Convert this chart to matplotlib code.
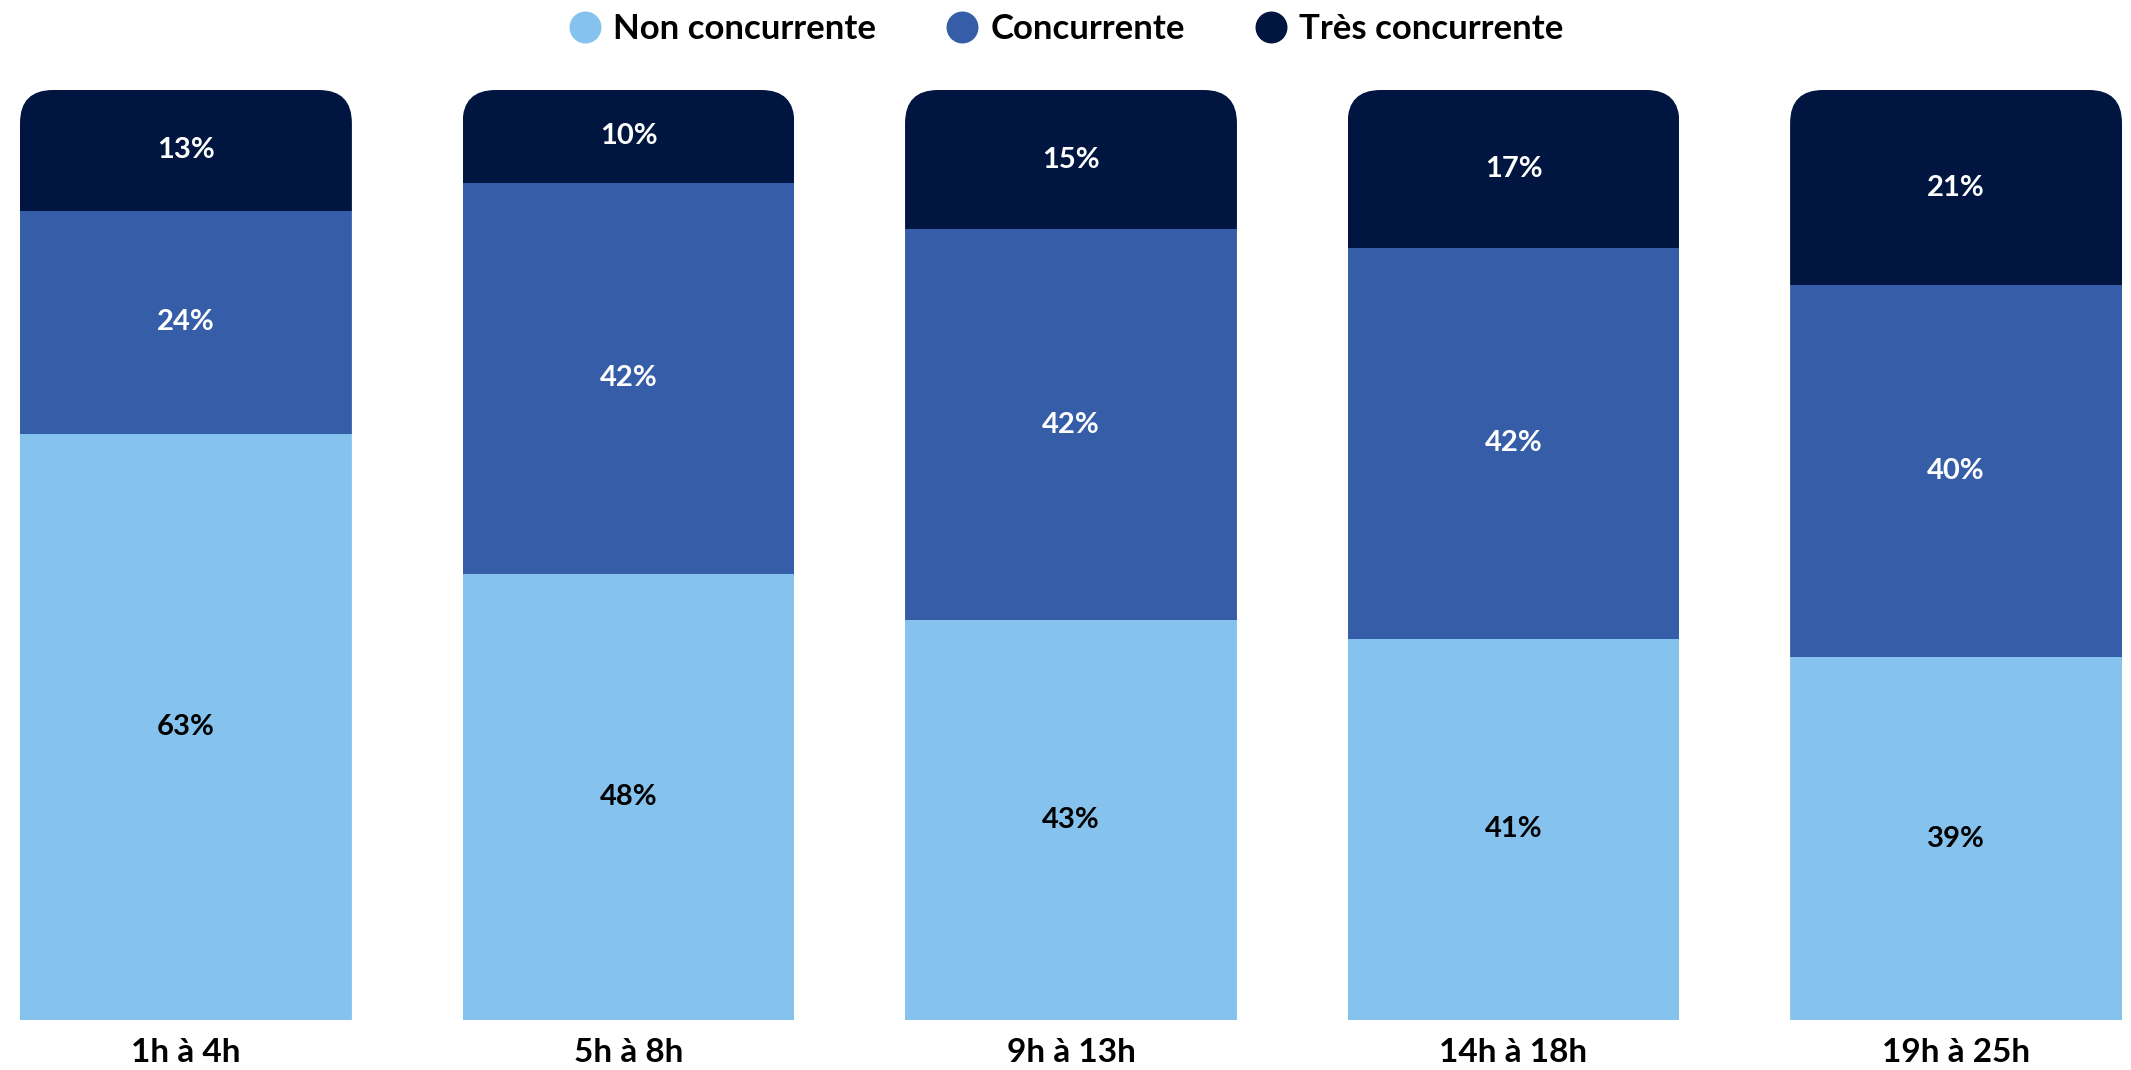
import numpy as np
import matplotlib.pyplot as plt
from matplotlib.patches import FancyBboxPatch
from matplotlib.lines import Line2D

plt.rcParams['font.family'] = ['Lato', 'DejaVu Sans']

categories = ["1h à 4h", "5h à 8h", "9h à 13h", "14h à 18h", "19h à 25h"]
series_names = ["Non concurrente", "Concurrente", "Très concurrente"]
non_concurrente = [63, 48, 43, 41, 39]
concurrente = [24, 42, 42, 42, 40]
tres_concurrente = [13, 10, 15, 17, 21]

colors = ["#85C3EE", "#365DA8", "#001641"]
text_colors = ["black", "white", "white"]

W, H = 2131, 1070
fig = plt.figure(figsize=(W / 100, H / 100), dpi=100)
ax = fig.add_axes([20 / W, 1 - 1020 / H, (2122 - 20) / W, (1020 - 90) / H])

x = np.arange(len(categories))
width = 0.75
ax.set_xlim(-width / 2, len(categories) - 1 + width / 2)
ax.set_ylim(0, 100)

# pixel sizes of one data unit, for the rounded corners
px_x = (2122 - 20) / (len(categories) - 1 + width)
px_y = (1020 - 90) / 100
radius_px = 33

series = [non_concurrente, concurrente, tres_concurrente]
totals = np.sum(np.array(series, dtype=float), axis=0)

bottom = np.zeros(len(categories))
for vals, col, tcol in zip(series, colors, text_colors):
    vals = np.array(vals, dtype=float)
    bars = ax.bar(x, vals, width, bottom=bottom, color=col, linewidth=0)
    for xi, b, v, tot, bar in zip(x, bottom, vals, totals, bars):
        # clip whole stack to one rounded-top shape
        clip = FancyBboxPatch((xi - width / 2, -20), width, tot + 20,
                              boxstyle=f"round,pad=0,rounding_size={radius_px / px_x}",
                              mutation_aspect=px_x / px_y,
                              transform=ax.transData)
        bar.set_clip_path(clip)
        ax.text(xi, b + v / 2, f"{int(v)}%", ha="center", va="center",
                color=tcol, fontsize=21, fontweight="bold")
    bottom = bottom + vals

ax.set_xticks(x)
ax.set_xticklabels(categories, fontsize=24, fontweight="bold")
ax.tick_params(axis="x", length=0, pad=13)
ax.set_yticks([])
for s in ax.spines.values():
    s.set_visible(False)

handles = [Line2D([], [], marker="o", linestyle="none", markersize=22,
                  markerfacecolor=c, markeredgecolor=c) for c in colors]
fig.legend(handles, series_names, loc="center", bbox_to_anchor=(0.5, 1 - 29 / H),
           ncol=3, frameon=False, prop={"size": 25, "weight": "bold"},
           handletextpad=0.3, columnspacing=2.0, handlelength=1.0)

fig.savefig("out.png", dpi=100)
